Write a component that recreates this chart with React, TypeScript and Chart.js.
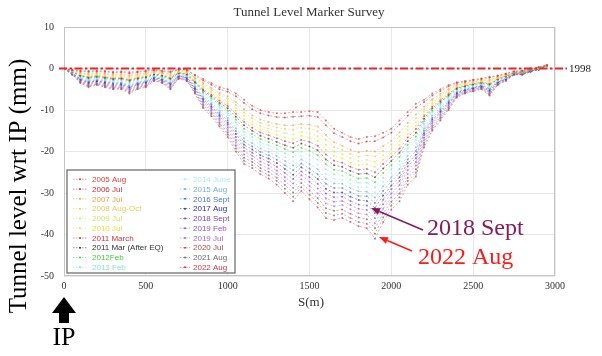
import { useEffect, useRef } from 'react';
import { Chart, registerables } from 'chart.js';

Chart.register(...registerables);

// ---- data ----
const distances = [
  0, 50, 100, 150, 200, 250, 300, 350, 400, 450,
  500, 550, 600, 650, 700, 750, 800, 850, 900, 950,
  1000, 1050, 1100, 1150, 1200, 1250, 1300, 1350, 1400, 1450,
  1500, 1550, 1600, 1650, 1700, 1750, 1800, 1850, 1900, 1950,
  2000, 2050, 2100, 2150, 2200, 2250, 2300, 2350, 2400, 2450,
  2500, 2550, 2600, 2650, 2700, 2750, 2800, 2850, 2900, 2950,
];

const surveyNames = [
  '2005 Aug', '2006 Jul', '2007 Jul', '2008 Aug-Oct', '2009 Jul',
  '2010 Jul', '2011 March', '2011 Mar (After EQ)', '2012Feb', '2013 Feb',
  '2014 June', '2015 Aug', '2016 Sept', '2017 Aug', '2018 Sept',
  '2019 Feb', '2019 Jul', '2020 Jul', '2021 Aug', '2022 Aug',
];

const surveyColors = [
  '#e0403c', '#d02a36', '#f0a048', '#f2c658', '#d6e46a',
  '#eede30', '#d8303a', '#333333', '#3ccc3c', '#88e6cc',
  '#a8eef6', '#72ace2', '#4476d6', '#2a2ea2', '#7846cc',
  '#9650d6', '#a466d6', '#a44a4a', '#6e6e6e', '#d83048',
];

const s2005Aug = [
  0, -0.3, -0.5, -0.6, -0.5, -0.6, -0.8, -0.7, -0.9, -0.7,
  -0.5, -0.3, -0.5, -0.7, -0.2, -0.3, -1.5, -2.5, -3.5, -4.5,
  -5, -6, -7.5, -9, -10, -10.5, -10.8, -10.8, -10.5, -10.5,
  -10.3, -10.5, -12.5, -14.5, -15.5, -16.5, -17, -16.5, -16.3, -15.5,
  -14.5, -12.5, -10.5, -8.5, -7.5, -6, -5, -4, -3.3, -3,
  -2.7, -2.4, -2, -1.7, -1.2, -0.7, -0.5, 0, 0.3, 0.8,
];
const s2006Jul = [
  0, -0.4, -0.7, -0.8, -0.7, -0.8, -1.0, -0.9, -1.2, -0.9,
  -0.7, -0.4, -0.7, -0.9, -0.3, -0.4, -1.7, -2.9, -3.9, -5.0,
  -5.6, -6.7, -8.3, -9.8, -10.8, -11.3, -11.7, -11.8, -11.6, -11.5,
  -11.4, -11.7, -13.7, -15.6, -16.5, -17.5, -18.1, -17.6, -17.5, -16.6,
  -15.5, -13.5, -11.4, -9.4, -8.1, -6.5, -5.4, -4.3, -3.5, -3.2,
  -2.8, -2.5, -2.2, -1.8, -1.3, -0.7, -0.6, 0.0, 0.3, 0.8,
];
const s2007Jul = [
  0, -0.5, -1.0, -1.2, -1.0, -1.2, -1.4, -1.3, -1.7, -1.3,
  -1.1, -0.7, -1.0, -1.3, -0.5, -0.7, -2.2, -3.5, -4.7, -5.9,
  -6.7, -8.1, -9.8, -11.3, -12.3, -12.9, -13.4, -13.7, -13.7, -13.4,
  -13.5, -14.0, -16.0, -17.8, -18.6, -19.6, -20.2, -19.8, -20.0, -18.7,
  -17.4, -15.4, -13.1, -11.1, -9.2, -7.4, -6.1, -4.9, -3.9, -3.5,
  -3.1, -2.8, -2.7, -2.1, -1.5, -0.8, -0.7, -0.1, 0.2, 0.8,
];
const s2008AugOct = [
  0, -0.5, -1.1, -1.4, -1.2, -1.4, -1.6, -1.6, -1.9, -1.6,
  -1.3, -0.8, -1.1, -1.6, -0.7, -0.8, -2.4, -3.9, -5.1, -6.4,
  -7.3, -8.8, -10.6, -12.0, -13.1, -13.7, -14.2, -14.6, -14.8, -14.3,
  -14.5, -15.1, -17.2, -18.9, -19.6, -20.6, -21.2, -20.9, -21.2, -19.8,
  -18.4, -16.4, -14.0, -12.0, -9.8, -7.8, -6.5, -5.2, -4.0, -3.6,
  -3.3, -2.9, -2.9, -2.2, -1.6, -0.9, -0.7, -0.2, 0.2, 0.8,
];
const s2009Jul = [
  0, -0.6, -1.3, -1.6, -1.4, -1.6, -1.9, -1.8, -2.2, -1.8,
  -1.5, -1.0, -1.3, -1.8, -0.8, -1.0, -2.6, -4.3, -5.5, -6.9,
  -7.9, -9.5, -11.4, -12.8, -13.9, -14.5, -15.1, -15.6, -15.9, -15.3,
  -15.6, -16.3, -18.4, -20.0, -20.6, -21.6, -22.3, -22.0, -22.5, -20.9,
  -19.4, -17.4, -14.9, -12.9, -10.4, -8.3, -6.9, -5.5, -4.2, -3.8,
  -3.4, -3.1, -3.1, -2.3, -1.7, -0.9, -0.8, -0.2, 0.2, 0.8,
];
const s2010Jul = [
  0, -0.7, -1.4, -1.8, -1.6, -1.8, -2.1, -2.0, -2.4, -2.0,
  -1.7, -1.1, -1.4, -2.0, -0.9, -1.1, -2.9, -4.6, -5.9, -7.4,
  -8.5, -10.2, -12.2, -13.5, -14.7, -15.3, -16.0, -16.6, -17.0, -16.2,
  -16.7, -17.4, -19.6, -21.1, -21.7, -22.7, -23.3, -23.1, -23.7, -22.0,
  -20.4, -18.4, -15.8, -13.8, -11.0, -8.7, -7.3, -5.8, -4.4, -3.9,
  -3.5, -3.2, -3.4, -2.4, -1.7, -0.9, -0.8, -0.2, 0.1, 0.8,
];
const s2011March = [
  0, -0.7, -1.6, -2.0, -1.7, -2.0, -2.3, -2.2, -2.7, -2.2,
  -1.9, -1.2, -1.6, -2.2, -1.0, -1.2, -3.1, -5.0, -6.3, -7.8,
  -9.0, -10.9, -12.9, -14.3, -15.4, -16.1, -16.8, -17.5, -18.0, -17.2,
  -17.7, -18.6, -20.7, -22.2, -22.7, -23.7, -24.4, -24.2, -25.0, -23.0,
  -21.3, -19.3, -16.6, -14.6, -11.5, -9.2, -7.6, -6.1, -4.6, -4.1,
  -3.7, -3.3, -3.6, -2.5, -1.8, -1.0, -0.9, -0.3, 0.1, 0.8,
];
const s2011MarAfterEQ = [
  0, -0.8, -1.7, -2.2, -1.9, -2.2, -2.5, -2.4, -2.9, -2.4,
  -2.1, -1.4, -1.7, -2.4, -1.1, -1.4, -3.3, -5.3, -6.7, -8.3,
  -9.6, -11.6, -13.7, -15.0, -16.2, -16.9, -17.7, -18.5, -19.1, -18.1,
  -18.8, -19.7, -21.9, -23.3, -23.7, -24.7, -25.4, -25.3, -26.2, -24.1,
  -22.3, -20.3, -17.5, -15.5, -12.1, -9.6, -8.0, -6.4, -4.8, -4.2,
  -3.8, -3.4, -3.8, -2.6, -1.9, -1.0, -0.9, -0.3, 0.1, 0.8,
];
const s2012Feb = [
  0, -0.8, -1.9, -2.4, -2.1, -2.4, -2.7, -2.6, -3.2, -2.6,
  -2.3, -1.5, -1.9, -2.6, -1.2, -1.5, -3.5, -5.7, -7.1, -8.8,
  -10.2, -12.3, -14.5, -15.8, -17.0, -17.7, -18.5, -19.4, -20.2, -19.1,
  -19.8, -20.9, -23.1, -24.4, -24.7, -25.7, -26.5, -26.4, -27.4, -25.2,
  -23.3, -21.3, -18.4, -16.4, -12.7, -10.1, -8.4, -6.7, -5.0, -4.4,
  -4.0, -3.6, -4.0, -2.7, -2.0, -1.1, -1.0, -0.4, 0.0, 0.8,
];
const s2013Feb = [
  0, -0.9, -2.0, -2.6, -2.3, -2.6, -2.9, -2.9, -3.5, -2.9,
  -2.5, -1.7, -2.0, -2.9, -1.4, -1.7, -3.8, -6.0, -7.5, -9.3,
  -10.8, -13.0, -15.3, -16.5, -17.8, -18.5, -19.4, -20.4, -21.3, -20.0,
  -20.9, -22.0, -24.3, -25.5, -25.8, -26.8, -27.5, -27.5, -28.7, -26.3,
  -24.3, -22.3, -19.3, -17.3, -13.3, -10.5, -8.8, -7.0, -5.2, -4.5,
  -4.1, -3.7, -4.3, -2.9, -2.1, -1.1, -1.0, -0.4, 0.0, 0.8,
];
const s2014June = [
  0, -1.0, -2.2, -2.7, -2.4, -2.7, -3.1, -3.1, -3.7, -3.1,
  -2.7, -1.8, -2.2, -3.1, -1.5, -1.8, -4.0, -6.4, -7.9, -9.7,
  -11.3, -13.7, -16.0, -17.3, -18.5, -19.3, -20.3, -21.4, -22.3, -21.0,
  -22.0, -23.2, -25.4, -26.6, -26.8, -27.8, -28.6, -28.6, -29.9, -27.3,
  -25.2, -23.2, -20.1, -18.1, -13.8, -11.0, -9.1, -7.3, -5.3, -4.7,
  -4.2, -3.8, -4.5, -3.0, -2.2, -1.1, -1.1, -0.4, 0.0, 0.7,
];
const s2015Aug = [
  0, -1.0, -2.3, -2.9, -2.6, -2.9, -3.3, -3.3, -4.0, -3.3,
  -2.9, -1.9, -2.3, -3.3, -1.6, -1.9, -4.2, -6.7, -8.3, -10.2,
  -11.9, -14.4, -16.8, -18.0, -19.3, -20.1, -21.1, -22.3, -23.4, -21.9,
  -23.0, -24.3, -26.6, -27.7, -27.8, -28.8, -29.6, -29.7, -31.1, -28.4,
  -26.2, -24.2, -21.0, -19.0, -14.4, -11.4, -9.5, -7.6, -5.5, -4.8,
  -4.4, -4.0, -4.7, -3.1, -2.3, -1.2, -1.1, -0.5, -0.1, 0.7,
];
const s2016Sept = [
  0, -1.1, -2.5, -3.1, -2.8, -3.1, -3.5, -3.5, -4.2, -3.5,
  -3.1, -2.1, -2.5, -3.5, -1.7, -2.1, -4.4, -7.1, -8.7, -10.7,
  -12.5, -15.1, -17.6, -18.8, -20.1, -20.9, -22.0, -23.3, -24.5, -22.9,
  -24.1, -25.5, -27.8, -28.8, -28.8, -29.8, -30.7, -30.8, -32.4, -29.5,
  -27.2, -25.2, -21.9, -19.9, -15.0, -11.9, -9.9, -7.9, -5.7, -5.0,
  -4.5, -4.1, -4.9, -3.2, -2.4, -1.2, -1.2, -0.5, -0.1, 0.7,
];
const s2017Aug = [
  0, -1.1, -2.6, -3.3, -3.0, -3.3, -3.7, -3.7, -4.5, -3.7,
  -3.3, -2.2, -2.6, -3.7, -1.8, -2.2, -4.7, -7.4, -9.1, -11.2,
  -13.1, -15.8, -18.4, -19.5, -20.9, -21.7, -22.8, -24.2, -25.6, -23.8,
  -25.1, -26.6, -29.0, -29.9, -29.9, -30.9, -31.7, -31.9, -33.6, -30.6,
  -28.2, -26.2, -22.8, -20.8, -15.6, -12.3, -10.3, -8.2, -5.9, -5.1,
  -4.7, -4.2, -5.2, -3.3, -2.5, -1.3, -1.2, -0.6, -0.1, 0.7,
];
const s2018Sept = [
  0, -1.2, -2.8, -3.5, -3.1, -3.5, -4.0, -3.9, -4.7, -3.9,
  -3.5, -2.3, -2.8, -3.9, -1.9, -2.3, -4.9, -7.8, -9.5, -11.6,
  -13.6, -16.5, -19.1, -20.3, -21.6, -22.5, -23.7, -25.2, -26.6, -24.8,
  -26.2, -27.8, -30.1, -31.0, -30.9, -31.9, -32.8, -33.0, -34.8, -31.6,
  -29.1, -27.1, -23.6, -21.6, -16.1, -12.8, -10.6, -8.5, -6.1, -5.3,
  -4.8, -4.4, -5.4, -3.4, -2.6, -1.3, -1.3, -0.6, -0.2, 0.7,
];
const s2019Feb = [
  0, -1.3, -2.9, -3.7, -3.3, -3.7, -4.2, -4.1, -5.0, -4.1,
  -3.7, -2.5, -2.9, -4.1, -2.0, -2.5, -5.1, -8.1, -9.9, -12.1,
  -14.2, -17.2, -19.9, -21.0, -22.4, -23.3, -24.6, -26.2, -27.7, -25.7,
  -27.3, -28.9, -31.3, -32.1, -31.9, -32.9, -33.8, -34.1, -36.1, -32.7,
  -30.1, -28.1, -24.5, -22.5, -16.7, -13.2, -11.0, -8.8, -6.3, -5.4,
  -4.9, -4.5, -5.6, -3.5, -2.6, -1.3, -1.3, -0.6, -0.2, 0.7,
];
const s2019Jul = [
  0, -1.3, -3.1, -3.9, -3.5, -3.9, -4.4, -4.4, -5.2, -4.4,
  -3.9, -2.6, -3.1, -4.4, -2.2, -2.6, -5.3, -8.5, -10.3, -12.6,
  -14.8, -17.9, -20.7, -21.8, -23.2, -24.1, -25.4, -27.1, -28.8, -26.7,
  -28.3, -30.1, -32.5, -33.2, -32.9, -33.9, -34.9, -35.2, -37.3, -33.8,
  -31.1, -29.1, -25.4, -23.4, -17.3, -13.7, -11.4, -9.1, -6.5, -5.6,
  -5.1, -4.6, -5.8, -3.7, -2.7, -1.4, -1.4, -0.7, -0.2, 0.7,
];
const s2020Jul = [
  0, -1.4, -3.2, -4.1, -3.7, -4.1, -4.6, -4.6, -5.5, -4.6,
  -4.1, -2.7, -3.2, -4.6, -2.3, -2.7, -5.6, -8.8, -10.7, -13.1,
  -15.4, -18.6, -21.5, -22.5, -24.0, -24.9, -26.3, -28.1, -29.9, -27.6,
  -29.4, -31.2, -33.7, -34.3, -34.0, -35.0, -35.9, -36.3, -38.5, -34.9,
  -32.1, -30.1, -26.3, -24.3, -17.9, -14.1, -11.8, -9.4, -6.6, -5.7,
  -5.2, -4.7, -6.1, -3.8, -2.8, -1.4, -1.4, -0.7, -0.2, 0.7,
];
const s2021Aug = [
  0, -1.4, -3.4, -4.3, -3.8, -4.3, -4.8, -4.8, -5.7, -4.8,
  -4.3, -2.9, -3.4, -4.8, -2.4, -2.9, -5.8, -9.2, -11.1, -13.5,
  -15.9, -19.3, -22.2, -23.3, -24.7, -25.7, -27.1, -29.0, -30.9, -28.6,
  -30.4, -32.4, -34.8, -35.4, -35.0, -36.0, -37.0, -37.4, -39.8, -35.9,
  -33.0, -31.0, -27.1, -25.1, -18.4, -14.6, -12.1, -9.7, -6.8, -5.9,
  -5.4, -4.9, -6.3, -3.9, -2.9, -1.5, -1.5, -0.8, -0.3, 0.7,
];
const s2022Aug = [
  0, -1.5, -3.5, -4.5, -4, -4.5, -5, -5, -6, -5,
  -4.5, -3, -3.5, -5, -2.5, -3, -6, -9.5, -11.5, -14,
  -16.5, -20, -23, -24, -25.5, -26.5, -28, -30, -32, -29.5,
  -31.5, -33.5, -36, -36.5, -36, -37, -38, -38.5, -41, -37,
  -34, -32, -28, -26, -19, -15, -12.5, -10, -7, -6,
  -5.5, -5, -6.5, -4, -3, -1.5, -1.5, -0.8, -0.3, 0.7,
];

const surveyValues = [
  s2005Aug, s2006Jul, s2007Jul, s2008AugOct, s2009Jul,
  s2010Jul, s2011March, s2011MarAfterEQ, s2012Feb, s2013Feb,
  s2014June, s2015Aug, s2016Sept, s2017Aug, s2018Sept,
  s2019Feb, s2019Jul, s2020Jul, s2021Aug, s2022Aug,
];

const baselineValue = 0;
const baselineLabel = '1998';
const chartTitle = 'Tunnel Level Marker Survey';
const yTitle = 'Tunnel level wrt IP (mm)';
const xTitle = 'S(m)';

// ---- helpers ----
function rgba(hex: string, a: number) {
  const n = parseInt(hex.slice(1), 16);
  return `rgba(${(n >> 16) & 255},${(n >> 8) & 255},${n & 255},${a})`;
}

function drawArrow(ctx: CanvasRenderingContext2D, x1: number, y1: number, x2: number, y2: number, color: string, lw: number) {
  const ang = Math.atan2(y2 - y1, x2 - x1);
  const hl = 9, hw = 3.6;
  const bx = x2 - hl * Math.cos(ang), by = y2 - hl * Math.sin(ang);
  ctx.save();
  ctx.strokeStyle = color;
  ctx.fillStyle = color;
  ctx.lineWidth = lw;
  ctx.beginPath();
  ctx.moveTo(x1, y1);
  ctx.lineTo(bx, by);
  ctx.stroke();
  ctx.beginPath();
  ctx.moveTo(x2, y2);
  ctx.lineTo(bx + hw * Math.sin(ang), by - hw * Math.cos(ang));
  ctx.lineTo(bx - hw * Math.sin(ang), by + hw * Math.cos(ang));
  ctx.closePath();
  ctx.fill();
  ctx.restore();
}

const SERIF = '"Liberation Serif", "Times New Roman", serif';
const SANS = '"Liberation Sans", Arial, sans-serif';

const overlayPlugin = {
  id: 'overlay',
  beforeDraw(chart: any) {
    const ctx = chart.ctx;
    ctx.save();
    ctx.fillStyle = '#ffffff';
    ctx.fillRect(0, 0, chart.width, chart.height);
    ctx.restore();
  },
  beforeDatasetsDraw(chart: any) {
    const { ctx, chartArea: a } = chart;
    ctx.save();
    ctx.strokeStyle = '#c4c4c4';
    ctx.lineWidth = 1;
    ctx.strokeRect(a.left + 0.5, a.top + 0.5, a.right - a.left - 1, a.bottom - a.top - 1);
    ctx.restore();
  },
  afterDraw(chart: any) {
    const ctx: CanvasRenderingContext2D = chart.ctx;
    const ys = chart.scales.y;
    const y0 = ys.getPixelForValue(baselineValue);

    // baseline 1998
    ctx.save();
    ctx.strokeStyle = '#e8232a';
    ctx.lineWidth = 2;
    ctx.setLineDash([8, 2.5, 2.5, 2.5]);
    ctx.beginPath();
    ctx.moveTo(59, y0);
    ctx.lineTo(567, y0);
    ctx.stroke();
    ctx.setLineDash([]);
    ctx.fillStyle = '#222';
    ctx.font = `11px ${SERIF}`;
    ctx.textBaseline = 'middle';
    ctx.textAlign = 'left';
    ctx.fillText(baselineLabel, 569, y0 + 1);
    ctx.restore();

    // title
    ctx.save();
    ctx.fillStyle = '#333';
    ctx.font = `13px ${SERIF}`;
    ctx.textAlign = 'center';
    ctx.textBaseline = 'middle';
    ctx.fillText(chartTitle, 309, 13);
    // x title
    ctx.fillText(xTitle, 311, 303);
    ctx.restore();

    // y title
    ctx.save();
    ctx.translate(19, 186);
    ctx.rotate(-Math.PI / 2);
    ctx.fillStyle = '#000';
    ctx.font = `25px ${SERIF}`;
    ctx.textAlign = 'center';
    ctx.textBaseline = 'middle';
    ctx.fillText(yTitle, 0, 0);
    ctx.restore();

    // legend
    ctx.save();
    ctx.fillStyle = '#fff';
    ctx.fillRect(67, 170, 168, 103);
    ctx.strokeStyle = '#707070';
    ctx.lineWidth = 1.3;
    ctx.strokeRect(67, 170, 168, 103);
    ctx.font = `8px ${SANS}`;
    ctx.textBaseline = 'middle';
    ctx.textAlign = 'left';
    const ds = chart.data.datasets;
    ds.forEach((d: any, i: number) => {
      const col = i < 10 ? 0 : 1;
      const row = i % 10;
      const y = 179.3 + row * 9.78;
      const sx1 = col ? 180 : 73;
      const sx2 = col ? 190 : 87;
      const tx = col ? 193 : 92;
      const c = surveyColors[i];
      ctx.strokeStyle = rgba(c, 0.7);
      ctx.lineWidth = 0.8;
      ctx.setLineDash([1.5, 1.5]);
      ctx.beginPath();
      ctx.moveTo(sx1, y);
      ctx.lineTo(sx2, y);
      ctx.stroke();
      ctx.setLineDash([]);
      ctx.fillStyle = c;
      ctx.beginPath();
      ctx.arc((sx1 + sx2) / 2, y, 1, 0, Math.PI * 2);
      ctx.fill();
      ctx.fillText(d.label, tx, y + 0.5);
    });
    ctx.restore();

    // annotations
    ctx.save();
    ctx.font = `24px ${SERIF}`;
    ctx.textAlign = 'left';
    ctx.textBaseline = 'alphabetic';
    ctx.fillStyle = '#8a1a55';
    ctx.fillText('2018 Sept', 427, 235);
    ctx.fillStyle = '#ff1a1a';
    ctx.fillText('2022 Aug', 418, 264);
    ctx.restore();
    drawArrow(ctx, 423, 230, 371, 208, '#8a1a55', 1.6);
    drawArrow(ctx, 412, 251, 379, 237, '#ff1a1a', 1.4);

    // IP arrow
    ctx.save();
    ctx.fillStyle = '#000';
    ctx.beginPath();
    ctx.moveTo(64, 297);
    ctx.lineTo(76, 313);
    ctx.lineTo(69, 313);
    ctx.lineTo(69, 323);
    ctx.lineTo(59, 323);
    ctx.lineTo(59, 313);
    ctx.lineTo(52, 313);
    ctx.closePath();
    ctx.fill();
    ctx.font = `26px ${SERIF}`;
    ctx.textAlign = 'center';
    ctx.textBaseline = 'middle';
    ctx.fillText('IP', 64, 338);
    ctx.restore();
  },
};

export default function App() {
  const ref = useRef<HTMLCanvasElement | null>(null);

  useEffect(() => {
    if (!ref.current) return;
    const datasets = surveyNames.map((name, i) => ({
      label: name,
      data: distances.map((x, j) => ({ x, y: surveyValues[i][j] })),
      borderColor: rgba(surveyColors[i], 0.55),
      backgroundColor: rgba(surveyColors[i], 0.7),
      pointBackgroundColor: rgba(surveyColors[i], 0.7),
      borderWidth: 0.8,
      borderDash: [2, 2],
      pointRadius: 1,
      pointBorderWidth: 0,
      tension: 0,
    }));

    const chart = new Chart(ref.current, {
      type: 'line',
      data: { datasets },
      options: {
        animation: false,
        responsive: false,
        devicePixelRatio: 1,
        layout: { padding: { top: 27, right: 47, left: 0, bottom: 0 } },
        plugins: {
          legend: { display: false },
          title: { display: false },
          tooltip: { enabled: false },
        },
        scales: {
          x: {
            type: 'linear',
            min: 0,
            max: 3000,
            ticks: {
              stepSize: 500,
              padding: 4,
              color: '#333',
              font: { family: SERIF, size: 10 },
              callback: (v: any) => String(v),
            },
            grid: { color: '#e8e8e8', drawTicks: false },
            border: { display: false },
            afterFit: (s: any) => { s.height = 80; },
          },
          y: {
            type: 'linear',
            min: -50,
            max: 10,
            ticks: {
              stepSize: 10,
              padding: 10,
              color: '#333',
              font: { family: SERIF, size: 10 },
              callback: (v: any) => String(v),
            },
            grid: { color: '#e8e8e8', drawTicks: false },
            border: { display: false },
            afterFit: (s: any) => { s.width = 64; },
          },
        },
      } as any,
      plugins: [overlayPlugin as any],
    });
    return () => chart.destroy();
  }, []);

  return (
    <div style={{ position: 'fixed', left: 0, top: 0, width: 602, height: 356, background: '#fff' }}>
      <canvas ref={ref} width={602} height={356} style={{ display: 'block' }} />
    </div>
  );
}
